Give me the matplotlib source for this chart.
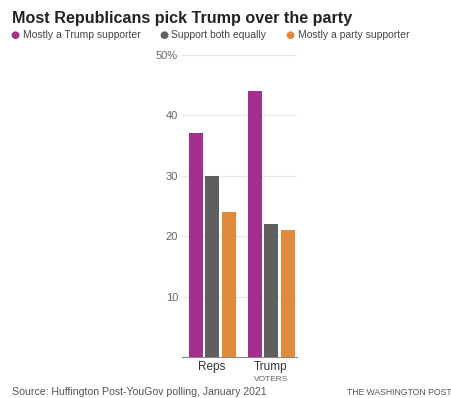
import numpy as np
import matplotlib.pyplot as plt

plt.rcParams['font.family'] = ['Liberation Sans', 'DejaVu Sans']

groups = ['Reps', 'Trump']
series = ['Mostly a Trump supporter', 'Support both equally', 'Mostly a party supporter']
trump_first = [37, 44]
both_equal = [30, 22]
party_first = [24, 21]
colors = ['#a3308c', '#5f5f5f', '#e08a3c']

fig = plt.figure(figsize=(4.52, 3.98), dpi=100)
ax = fig.add_axes([0.403, 0.103, 0.254, 0.759])

x = np.arange(len(groups)) * 1.0
w = 0.237
step = 0.28
for i, (vals, c) in enumerate(zip([trump_first, both_equal, party_first], colors)):
    ax.bar(x + (i - 1) * step, vals, width=w, color=c, zorder=3)

ax.set_ylim(0, 50)
ax.set_xlim(-0.508, 1.44)
ax.set_yticks([10, 20, 30, 40, 50])
ax.set_yticklabels(['10', '20', '30', '40', '50%'])
ax.yaxis.grid(True, color='#e6e6e6', linewidth=0.8, zorder=0)
for s in ['top', 'right', 'left']:
    ax.spines[s].set_visible(False)
ax.spines['bottom'].set_color('#888888')
ax.tick_params(axis='y', length=0, labelsize=8, labelcolor='#666666', pad=3)
ax.tick_params(axis='x', length=0, labelsize=8.5, labelcolor='#333333', pad=3)
ax.set_xticks(x)
ax.set_xticklabels(groups)
ax.text(x[1], -3.1, 'VOTERS', ha='center', va='top', fontsize=6, color='#666666')

fig.text(0.027, 0.953, 'Most Republicans pick Trump over the party', fontsize=11.6,
         fontweight='bold', color='#222222', va='center')

leg_x = [0.024, 0.352, 0.632]
for lx, label, c in zip(leg_x, series, colors):
    fig.text(lx, 0.913, '\u25cf', color=c, fontsize=7.5, va='center', family='DejaVu Sans')
    fig.text(lx + 0.027, 0.913, label, color='#444444', fontsize=7.5, va='center')

fig.text(0.027, 0.015, 'Source: Huffington Post-YouGov polling, January 2021',
         fontsize=7.6, color='#555555', va='center')
fig.text(1.0, 0.015, 'THE WASHINGTON POST', fontsize=6.2, color='#555555',
         va='center', ha='right')

fig.savefig('out.png', dpi=100)
